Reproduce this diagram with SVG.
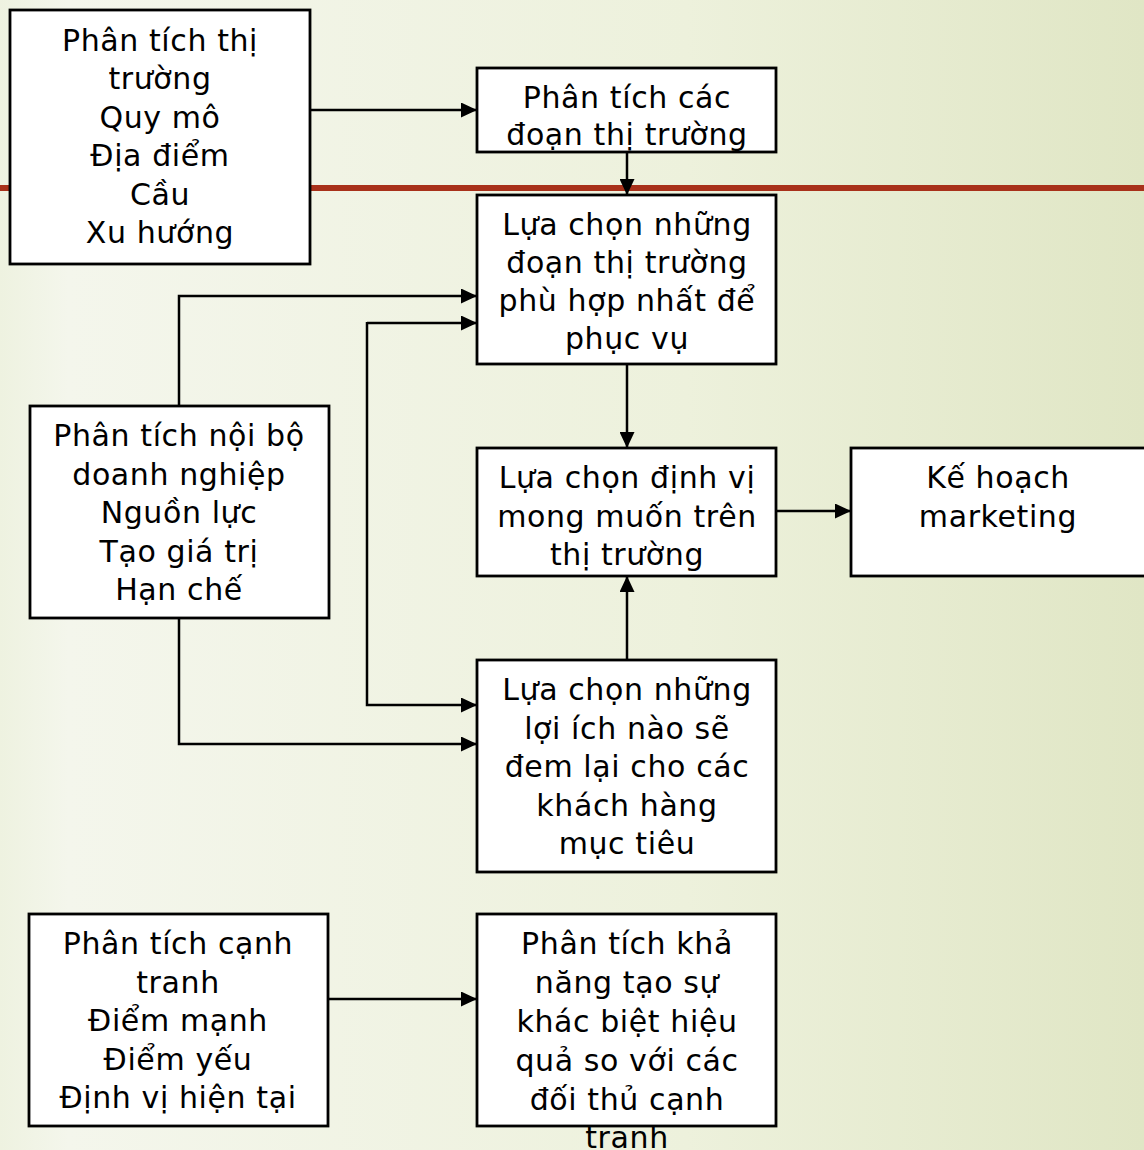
<svg xmlns="http://www.w3.org/2000/svg" width="1144" height="1150" viewBox="0 0 1144 1150">
  <defs>
    <linearGradient id="bg" x1="0" y1="0" x2="1" y2="0">
      <stop offset="0" stop-color="#EEF2E0"/>
      <stop offset="0.06" stop-color="#F4F6EC"/>
      <stop offset="0.6" stop-color="#EDF1DC"/>
      <stop offset="1" stop-color="#E0E6C5"/>
    </linearGradient>
    <marker id="arrow" markerUnits="userSpaceOnUse" markerWidth="17" markerHeight="15" refX="16" refY="7.5" orient="auto">
      <path d="M0,0 L16,7.5 L0,15 Z" fill="#000"/>
    </marker>
    <style>
      .box { fill: #fff; stroke: #000; stroke-width: 2.8; }
      .lbl { font-family: "DejaVu Sans", "Noto Sans", sans-serif; font-size: 30px; letter-spacing: 0.6px; fill: #000; text-anchor: middle; }
      .conn { fill: none; stroke: #000; stroke-width: 2.5; }
    </style>
  </defs>

  <!-- slide background and title rule -->
  <rect x="0" y="0" width="1144" height="1150" fill="url(#bg)"/>
  <rect x="0" y="185" width="1144" height="6" fill="#A8311A"/>

  <!-- market analysis -->
  <g id="market-analysis">
    <rect class="box" x="10" y="10" width="300" height="254"/>
    <text class="lbl" x="160" y="51">Phân tích thị</text>
    <text class="lbl" x="160" y="89.4">trường</text>
    <text class="lbl" x="160" y="127.8">Quy mô</text>
    <text class="lbl" x="160" y="166.2">Địa điểm</text>
    <text class="lbl" x="160" y="204.6">Cầu</text>
    <text class="lbl" x="160" y="243">Xu hướng</text>
  </g>

  <g id="segment-analysis">
    <rect class="box" x="477" y="68" width="299" height="84"/>
    <text class="lbl" x="627" y="108">Phân tích các</text>
    <text class="lbl" x="627" y="145">đoạn thị trường</text>
  </g>

  <g id="segment-selection">
    <rect class="box" x="477" y="195" width="299" height="169"/>
    <text class="lbl" x="627" y="235">Lựa chọn những</text>
    <text class="lbl" x="627" y="273">đoạn thị trường</text>
    <text class="lbl" x="627" y="311">phù hợp nhất để</text>
    <text class="lbl" x="627" y="349">phục vụ</text>
  </g>

  <g id="positioning">
    <rect class="box" x="477" y="448" width="299" height="128"/>
    <text class="lbl" x="627" y="488">Lựa chọn định vị</text>
    <text class="lbl" x="627" y="527">mong muốn trên</text>
    <text class="lbl" x="627" y="565">thị trường</text>
  </g>

  <g id="marketing-plan">
    <rect class="box" x="851" y="448" width="300" height="128"/>
    <text class="lbl" x="998" y="488">Kế hoạch</text>
    <text class="lbl" x="998" y="527">marketing</text>
  </g>

  <g id="internal-analysis">
    <rect class="box" x="30" y="406" width="299" height="212"/>
    <text class="lbl" x="179" y="446">Phân tích nội bộ</text>
    <text class="lbl" x="179" y="484.5">doanh nghiệp</text>
    <text class="lbl" x="179" y="523">Nguồn lực</text>
    <text class="lbl" x="179" y="561.5">Tạo giá trị</text>
    <text class="lbl" x="179" y="600">Hạn chế</text>
  </g>

  <g id="benefit-selection">
    <rect class="box" x="477" y="660" width="299" height="212"/>
    <text class="lbl" x="627" y="700">Lựa chọn những</text>
    <text class="lbl" x="627" y="738.5">lợi ích nào sẽ</text>
    <text class="lbl" x="627" y="777">đem lại cho các</text>
    <text class="lbl" x="627" y="815.5">khách hàng</text>
    <text class="lbl" x="627" y="854">mục tiêu</text>
  </g>

  <g id="competitor-analysis">
    <rect class="box" x="29" y="914" width="299" height="212"/>
    <text class="lbl" x="178" y="954">Phân tích cạnh</text>
    <text class="lbl" x="178" y="992.5">tranh</text>
    <text class="lbl" x="178" y="1031">Điểm mạnh</text>
    <text class="lbl" x="178" y="1069.5">Điểm yếu</text>
    <text class="lbl" x="178" y="1108">Định vị hiện tại</text>
  </g>

  <g id="differentiation">
    <rect class="box" x="477" y="914" width="299" height="212"/>
    <text class="lbl" x="627" y="954">Phân tích khả</text>
    <text class="lbl" x="627" y="993">năng tạo sự</text>
    <text class="lbl" x="627" y="1032">khác biệt hiệu</text>
    <text class="lbl" x="627" y="1071">quả so với các</text>
    <text class="lbl" x="627" y="1110">đối thủ cạnh</text>
    <text class="lbl" x="627" y="1148">tranh</text>
  </g>

  <!-- connectors -->
  <g id="connectors">
    <path class="conn" d="M310,110 H477" marker-end="url(#arrow)"/>
    <path class="conn" d="M627,152 V195" marker-end="url(#arrow)"/>
    <path class="conn" d="M627,364 V448" marker-end="url(#arrow)"/>
    <path class="conn" d="M627,660 V576" marker-end="url(#arrow)"/>
    <path class="conn" d="M776,511 H851" marker-end="url(#arrow)"/>
    <path class="conn" d="M179,406 V296 H477" marker-end="url(#arrow)"/>
    <path class="conn" d="M179,618 V744 H477" marker-end="url(#arrow)"/>
    <path class="conn" d="M367,323 H477" marker-end="url(#arrow)"/>
    <path class="conn" d="M367,322 V705 H477" marker-end="url(#arrow)"/>
    <path class="conn" d="M328,999 H477" marker-end="url(#arrow)"/>
  </g>
</svg>
